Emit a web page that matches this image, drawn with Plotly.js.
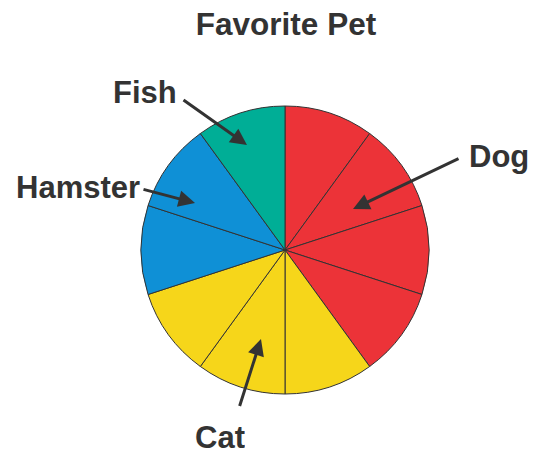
<!DOCTYPE html>
<html>
<head>
<meta charset="utf-8">
<script src="https://cdn.plot.ly/plotly-3.0.1.min.js"></script>
<style>html,body{margin:0;padding:0;background:#fff;}#chart{width:542px;height:453px;}</style>
</head>
<body>
<div id="chart"></div>
<script>
// Data
var categories = ['Dog', 'Cat', 'Hamster', 'Fish'];
var counts = [4, 3, 2, 1];
var categoryColors = ['#ec3338', '#f6d61a', '#0f90d6', '#00ae96'];
var chartTitle = 'Favorite Pet';

// Build one slice per vote (each vote is one equal wedge)
var sliceLabels = [], sliceValues = [], sliceColors = [];
categories.forEach(function (c, i) {
  for (var k = 0; k < counts[i]; k++) {
    sliceLabels.push(c + ' ' + (k + 1));
    sliceValues.push(1);
    sliceColors.push(categoryColors[i]);
  }
});

var W = 542, H = 453;
var cx = 285, cy = 250, R = 144;

var trace = {
  type: 'pie',
  labels: sliceLabels,
  values: sliceValues,
  sort: false,
  direction: 'clockwise',
  rotation: 0,
  textinfo: 'none',
  hoverinfo: 'none',
  showlegend: false,
  marker: { colors: sliceColors, line: { color: '#333333', width: 1 } },
  domain: {
    x: [(cx - R) / W, (cx + R) / W],
    y: [(H - cy - R) / H, (H - cy + R) / H]
  }
};

var labelFont = { family: 'Liberation Sans, Arial, sans-serif', size: 31, color: '#333333' };
var titleFont = { family: 'Liberation Sans, Arial, sans-serif', size: 31.5, color: '#333333' };
function px(x) { return x / W; }
function py(y) { return 1 - y / H; }

// label text positions and arrow (tail -> tip) in pixels
var labelPos = {
  Dog: { tx: 499, ty: 156, ax: 460, ay: 158, hx: 353, hy: 209 },
  Cat: { tx: 220, ty: 437, ax: 239, ay: 408, hx: 261, hy: 339 },
  Hamster: { tx: 78, ty: 187, ax: 142, ay: 189, hx: 195, hy: 203 },
  Fish: { tx: 145, ty: 92, ax: 182, ay: 99, hx: 247, hy: 145 }
};

var annotations = [];
categories.forEach(function (c) {
  var p = labelPos[c];
  var ann = {
    xref: 'paper', yref: 'paper', x: px(p.tx), y: py(p.ty),
    xanchor: 'center', yanchor: 'middle', showarrow: false,
    text: '<b>' + c + '</b>', font: labelFont
  };
  if (c === 'Cat') { ann.height = 30; ann.valign = 'middle'; ann.borderpad = 0; }
  annotations.push(ann);
  annotations.push({
    xref: 'paper', yref: 'paper', x: px(p.hx), y: py(p.hy),
    ax: p.ax - p.hx, ay: p.ay - p.hy, axref: 'pixel', ayref: 'pixel',
    text: ' ', font: { size: 1 }, showarrow: true,
    arrowhead: 2, arrowsize: 1.1, arrowwidth: 3, arrowcolor: '#333333'
  });
});

var layout = {
  width: W, height: H,
  margin: { l: 0, r: 0, t: 0, b: 0 },
  paper_bgcolor: '#ffffff',
  title: {
    text: '<b>' + chartTitle + '</b>',
    font: titleFont,
    x: 286 / W, xanchor: 'center', xref: 'paper',
    y: 1 - 23.5 / H, yanchor: 'middle', yref: 'container'
  },
  annotations: annotations
};

Plotly.newPlot('chart', [trace], layout, { displayModeBar: false, staticPlot: true });
</script>
</body>
</html>
